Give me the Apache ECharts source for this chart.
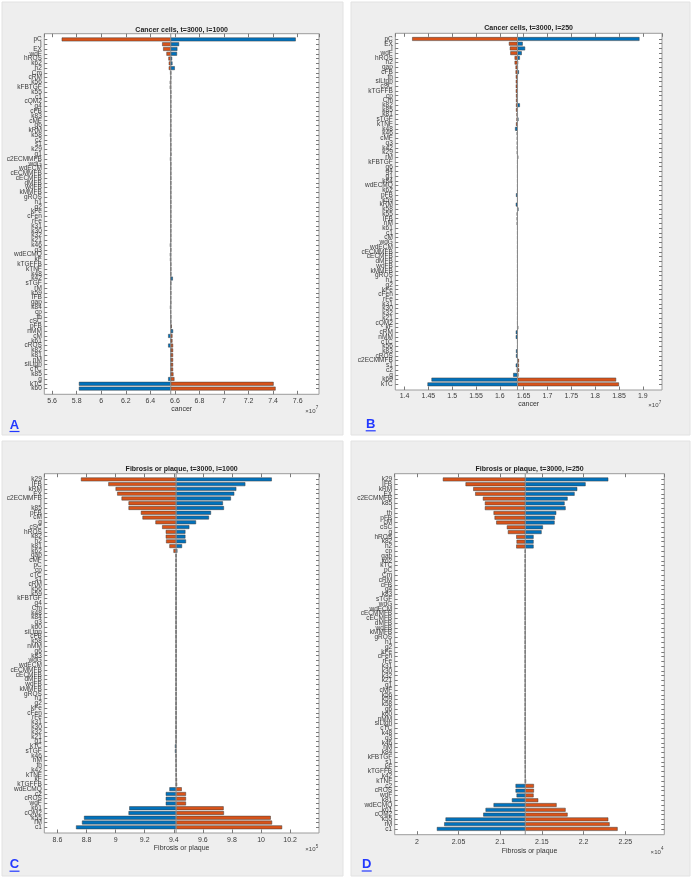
<!DOCTYPE html>
<html><head><meta charset="utf-8">
<script src="https://cdn.jsdelivr.net/npm/echarts@6/dist/echarts.min.js"></script>
<style>html,body{margin:0;padding:0;background:#fff}#c{width:692px;height:879px}</style>
</head><body><div id="c"></div>
<script>
// ---------- Panel A: Cancer cells, t=3000, l=1000 (x 10^7) ----------
const paramsA = ['pC','I','EX','wdF','hROS','k62','h2','Cm','cRM','k56','kFBTGF','k55','c1','cQM2','g4','cFB','k83','cMF','g6','kRM','k58','c2','s1','k29','g1','c2ECMMFB','wdG','wdECM','cECMMFB','cECMFB','dMFB','wdFB','kMMFB','gROS','h1','g2','kFe','cFen','rFe','k31','k30','k32','k21','k46','q3','wdECMQ','kF','kTGFFB','kTNF','k48','k42','sTGF','rM','k59','IFB','gap','k84','cp','th','cSC','pFB','nMM','cM','k61','cROS','k82','k81','nM','siLtgn','cTC','k85','g','kTC','k60'];
const orangeA = [5.678,6.496,6.504,6.531,6.547,6.550,6.550,6.561,6.563,6.558,
 6.558,6.565,6.565,6.565,6.565,6.565,6.565,6.565,6.565,6.565,
 6.567,6.565,6.565,6.565,6.565,6.567,6.566,6.566,6.566,6.566,
 6.566,6.566,6.566,6.566,6.566,6.566,6.566,6.566,6.566,6.566,
 6.566,6.566,6.566,6.567,6.566,6.567,6.567,6.566,6.566,6.566,
 6.565,6.566,6.567,6.566,6.567,6.566,6.567,6.566,6.566,6.566,
 6.574,6.574,6.580,6.580,6.585,6.585,6.585,6.585,6.585,6.585,
 6.588,6.596,7.404,7.420];
const blueA = [7.584,6.634,6.620,6.617,6.577,6.580,6.599,6.569,6.568,6.567,
 6.567,6.567,6.567,6.567,6.567,6.567,6.567,6.567,6.567,6.567,
 6.560,6.566,6.567,6.567,6.569,6.560,6.566,6.566,6.566,6.566,
 6.566,6.566,6.566,6.566,6.566,6.566,6.566,6.566,6.566,6.566,
 6.566,6.566,6.566,6.559,6.566,6.559,6.560,6.566,6.566,6.566,
 6.583,6.566,6.562,6.566,6.563,6.566,6.560,6.563,6.566,6.566,
 6.566,6.585,6.545,6.564,6.545,6.564,6.564,6.564,6.564,6.564,
 6.564,6.545,5.818,5.818];
const baseA = 6.566;

// ---------- Panel B: Cancer cells, t=3000, l=250 (x 10^7) ----------
const paramsB = ['pC','EX','I','wdF','hROS','h2','gap','cFB','th','siLtgn','cSC','kTGFFB','cp','Cm','k82','k85','k81','sTGF','kTNF','k48','k46','cMF','q3','k42','k29','rM','kFBTGF','g6','g4','g1','k84','wdECMQ','k62','pFB','k59','kRM','k58','k55','IFB','nM','k61','c1','cM','wdG','wdECM','cECMMFB','cECMFB','dMFB','wdFB','kMMFB','gROS','h1','g2','kFe','cFen','rFe','k31','k30','k32','k21','cQM2','kF','cRM','nMM','cTC','k56','k83','cROS','c2ECMMFB','s1','c2','g','k60','kTC'];
const orangeB = [1.416,1.619,1.621,1.622,1.631,1.631,1.633,1.633,1.6335,1.6335,
 1.6335,1.6335,1.634,1.634,1.634,1.634,1.635,1.635,1.634,1.635,
 1.6355,1.636,1.636,1.636,1.636,1.637,1.637,1.637,1.637,1.637,
 1.637,1.637,1.637,1.637,1.637,1.637,1.637,1.637,1.637,1.637,
 1.637,1.637,1.637,1.637,1.637,1.637,1.637,1.637,1.637,1.637,
 1.637,1.637,1.637,1.637,1.637,1.637,1.637,1.637,1.637,1.637,
 1.637,1.637,1.637,1.637,1.637,1.637,1.637,1.637,1.640,1.640,
 1.6405,1.639,1.844,1.850];
const blueB = [1.893,1.648,1.653,1.646,1.642,1.638,1.6375,1.640,1.6372,1.6372,
 1.6372,1.6372,1.6372,1.6372,1.642,1.6372,1.6372,1.639,1.637,1.632,
 1.637,1.637,1.637,1.637,1.637,1.6385,1.637,1.637,1.637,1.637,
 1.637,1.637,1.637,1.634,1.637,1.6335,1.639,1.6355,1.6355,1.6355,
 1.637,1.637,1.637,1.637,1.637,1.637,1.637,1.637,1.637,1.637,
 1.637,1.637,1.637,1.637,1.637,1.637,1.637,1.637,1.637,1.637,
 1.637,1.6385,1.6335,1.6335,1.637,1.637,1.634,1.634,1.637,1.6335,
 1.6355,1.628,1.4566,1.4482];
const baseB = 1.637;

// ---------- Panel C: Fibrosis or plaque, t=3000, l=1000 (x 10^5) ----------
const paramsC = ['k29','IFB','kRM','EX','c2ECMMFB','I','k85','pFB','cM','g','cSC','hROS','k82','h2','k81','k62','gap','cMF','pC','cp','cTC','s1','cRM','k56','k59','kFBTGF','g4','Cm','k48','k84','q3','k60','siLtgn','cFB','k58','nMM','g6','k83','wdG','wdECM','cECMMFB','cECMFB','dMFB','wdFB','kMMFB','gROS','h1','g2','kFe','cFen','rFe','k31','k30','k32','k21','g1','kTC','sTGF','k46','nM','th','k42','kTNF','kF','kTGFFB','wdECMQ','c2','cROS','wdF','k61','cQM2','k55','rM','c1'];
const orangeC = [8.762,8.950,9.000,9.011,9.041,9.089,9.089,9.174,9.185,9.274,
 9.320,9.345,9.345,9.347,9.370,9.398,9.413,9.414,9.414,9.414,
 9.415,9.415,9.416,9.416,9.416,9.416,9.416,9.416,9.416,9.416,
 9.416,9.416,9.416,9.416,9.416,9.416,9.416,9.416,9.416,9.416,
 9.416,9.416,9.416,9.416,9.416,9.416,9.416,9.416,9.416,9.416,
 9.416,9.416,9.416,9.416,9.416,9.416,9.416,9.416,9.416,9.416,
 9.418,9.419,9.420,9.422,9.423,9.455,9.484,9.484,9.484,9.743,
 9.745,10.067,10.076,10.145];
const blueC = [10.074,9.892,9.830,9.816,9.793,9.738,9.745,9.656,9.642,9.553,
 9.507,9.480,9.480,9.484,9.457,9.425,9.419,9.418,9.418,9.417,
 9.417,9.417,9.416,9.416,9.416,9.416,9.416,9.416,9.416,9.416,
 9.416,9.416,9.416,9.416,9.416,9.416,9.416,9.416,9.416,9.416,
 9.416,9.416,9.416,9.416,9.416,9.416,9.416,9.416,9.416,9.416,
 9.416,9.416,9.416,9.416,9.416,9.416,9.408,9.408,9.415,9.415,
 9.415,9.415,9.415,9.415,9.415,9.370,9.345,9.345,9.345,9.094,
 9.089,8.783,8.769,8.728];
const baseC = 9.416;

// ---------- Panel D: Fibrosis or plaque, t=3000, l=250 (x 10^4) ----------
const paramsD = ['k29','IFB','kRM','EX','c2ECMMFB','k85','I','th','pFB','cM','cSC','g','hROS','k82','h2','cp','gap','k62','kTC','pC','Cm','cRM','cFB','g4','k83','sTGF','wdG','wdECM','cECMMFB','cECMFB','dMFB','wdFB','kMMFB','gROS','h1','g2','kFe','cFen','rFe','k31','k30','k32','k21','g1','cMF','k56','k59','k58','g6','k60','nMM','siLtgn','cTC','k48','q3','k46','nM','k84','kFBTGF','s1','kF','kTGFFB','k42','kTNF','c2','cROS','wdF','k81','wdECMQ','k61','cQM2','k55','rM','c1'];
const orangeD = [2.0312,2.0584,2.0676,2.0700,2.0792,2.0816,2.0816,2.0920,2.0932,2.0952,
 2.1080,2.1092,2.1192,2.1196,2.1192,2.1296,2.1298,2.1298,2.1299,2.1299,
 2.1300,2.1300,2.1300,2.1300,2.1300,2.1300,2.1300,2.1300,2.1300,2.1300,
 2.1300,2.1300,2.1300,2.1300,2.1300,2.1300,2.1300,2.1300,2.1300,2.1300,
 2.1300,2.1300,2.1300,2.1301,2.1301,2.1301,2.1301,2.1301,2.1301,2.1301,
 2.1301,2.1301,2.1301,2.1302,2.1302,2.1302,2.1302,2.1302,2.1302,2.1303,
 2.1304,2.1305,2.1306,2.1310,2.1404,2.1404,2.1400,2.1456,2.1676,2.1784,
 2.1808,2.2296,2.2312,2.2408];
const blueD = [2.2296,2.2024,2.1924,2.1892,2.1808,2.1772,2.1784,2.1672,2.1656,2.1652,
 2.1512,2.1496,2.1400,2.1400,2.1400,2.1306,2.1303,2.1302,2.1301,2.1301,
 2.1300,2.1300,2.1300,2.1300,2.1300,2.1300,2.1300,2.1300,2.1300,2.1300,
 2.1300,2.1300,2.1300,2.1300,2.1300,2.1300,2.1300,2.1300,2.1300,2.1300,
 2.1300,2.1300,2.1300,2.1299,2.1299,2.1299,2.1299,2.1299,2.1299,2.1299,
 2.1299,2.1299,2.1299,2.1299,2.1299,2.1299,2.1299,2.1299,2.1299,2.1299,
 2.1299,2.1299,2.1299,2.1298,2.1184,2.1184,2.1196,2.1140,2.0920,2.0824,
 2.0796,2.0344,2.0328,2.0240];
const baseD = 2.130;

const titles = ['Cancer cells, t=3000, l=1000','Cancer cells, t=3000, l=250','Fibrosis or plaque, t=3000, l=1000','Fibrosis or plaque, t=3000, l=250'];
const xNames = ['cancer','cancer','Fibrosis or plaque','Fibrosis or plaque'];
const exponents = ['7','7','5','4'];
const letters = ['A','B','C','D'];

// ---------- layout ----------
const FONT = '"Liberation Sans", Arial, Helvetica, sans-serif';
const ORANGE = '#D95319', BLUE = '#0072BD';
const PAD = 1.2;
const panels = [
  {params:paramsA, orange:orangeA, blue:blueA, base:baseA, step:0.2, split:10,
   box:{l:44.3,t:33.7,w:274.7,h:360.6}, bg:{x:2,y:2,w:341,h:433}, lx:14.5, ly:425, titleY:30, nameGap:11.5, margin:3.5, expY:411},
  {params:paramsB, orange:orangeB, blue:blueB, base:baseB, step:0.05, split:10,
   box:{l:395.3,t:33.3,w:266.7,h:356.7}, bg:{x:351,y:2,w:339,h:433}, lx:370.7, ly:424.3, titleY:28.5, nameGap:10.5, margin:2.5, expY:405.5},
  {params:paramsC, orange:orangeC, blue:blueC, base:baseC, step:0.2, split:10,
   box:{l:44.3,t:473.7,w:274.7,h:359.3}, bg:{x:2,y:441,w:341,h:435}, lx:14.5, ly:864.7, titleY:469.5, nameGap:11.3, margin:3.5, expY:849.5},
  {params:paramsD, orange:orangeD, blue:blueD, base:baseD, step:0.05, split:6,
   box:{l:394.7,t:473.7,w:269.6,h:361}, bg:{x:351,y:441,w:339,h:435}, lx:366.7, ly:864.5, titleY:469, nameGap:12.5, margin:4, expY:852}
];

const option = {animation:false, backgroundColor:'#ffffff', grid:[], xAxis:[], yAxis:[], series:[], graphic:[]};
const tickStyle = {color:'#7a7a7a', width:1};

panels.forEach((p, i) => {
  const n = p.params.length;
  const b = p.box;
  const band = b.h / (n - 1 + 2 * PAD);
  const og = 2 * i, ig = 2 * i + 1;
  option.grid.push({left:b.l, top:b.t, width:b.w, height:b.h, show:true, backgroundColor:'#ffffff', borderColor:'#9c9c9c', borderWidth:1, containLabel:false, outerBoundsMode:'none'});
  option.grid.push({left:b.l, top:b.t + (PAD - 0.5) * band, width:b.w, height:n * band, containLabel:false, outerBoundsMode:'none'});
  const all = p.orange.concat(p.blue);
  const mn = Math.min(...all) * 0.975, mx = Math.max(...all) * 1.025;
  const step = p.step;
  const fmt = v => { const k = v / step; if (Math.abs(k - Math.round(k)) > 1e-6) return ''; return String(+v.toFixed(4)); };
  option.xAxis.push({type:'value', gridIndex:og, position:'bottom', min:mn, max:mx, splitNumber:p.split,
    axisLine:{show:false}, splitLine:{show:false},
    axisTick:{show:true, inside:true, length:3.5, lineStyle:tickStyle},
    axisLabel:{show:true, formatter:fmt, fontSize:7, color:'#3a3a3a', fontFamily:FONT, margin:p.margin, showMinLabel:false, showMaxLabel:false},
    name:xNames[i], nameLocation:'middle', nameGap:p.nameGap, nameTextStyle:{fontSize:7, color:'#333', fontFamily:FONT}});
  option.xAxis.push({type:'value', gridIndex:og, position:'top', min:mn, max:mx, splitNumber:p.split,
    axisLine:{show:false}, splitLine:{show:false},
    axisTick:{show:true, inside:true, length:3.5, lineStyle:tickStyle}, axisLabel:{show:false}});
  option.xAxis.push({type:'value', gridIndex:ig, min:mn, max:mx, show:false});
  option.yAxis.push({type:'value', gridIndex:og, min:0, max:1, show:false});
  option.yAxis.push({type:'category', gridIndex:ig, data:p.params, inverse:true, position:'left',
    axisLine:{show:false}, splitLine:{show:false},
    axisTick:{show:true, inside:true, alignWithLabel:true, interval:0, length:3, lineStyle:tickStyle},
    axisLabel:{interval:0, fontSize:6.5, color:'#3a3a3a', fontFamily:FONT, margin:2.5}});
  option.yAxis.push({type:'category', gridIndex:ig, data:p.params, inverse:true, position:'right',
    axisLine:{show:false}, splitLine:{show:false},
    axisTick:{show:true, inside:true, alignWithLabel:true, interval:0, length:3, lineStyle:tickStyle},
    axisLabel:{show:false}});

  const xi = 3 * i + 2, yi = 3 * i + 1;
  const mk = (vals, color, stack) => {
    const lo = vals.map(v => Math.min(v, p.base));
    const len = vals.map(v => Math.abs(v - p.base));
    option.series.push({type:'bar', xAxisIndex:xi, yAxisIndex:yi, stack:stack + i, data:lo, barGap:'-100%', barCategoryGap:'20%',
      itemStyle:{color:'rgba(0,0,0,0)', borderWidth:0}, silent:true, emphasis:{disabled:true}, z:2});
    option.series.push({type:'bar', xAxisIndex:xi, yAxisIndex:yi, stack:stack + i, data:len, barGap:'-100%', barCategoryGap:'20%',
      itemStyle:{color:color, borderColor:'#3c3c3c', borderWidth:0.5}, silent:true, emphasis:{disabled:true}, z:2});
  };
  mk(p.orange, ORANGE, 'o');
  mk(p.blue, BLUE, 'b');
  // bar baseline
  option.series.push({type:'line', xAxisIndex:3 * i, yAxisIndex:3 * i, data:[[p.base, 0], [p.base, 1]],
    showSymbol:false, symbol:'none', silent:true, lineStyle:{color:'#8c8c8c', width:1}, z:3});

  // panel background
  option.graphic.push({type:'rect', z:-10, silent:true, shape:{x:p.bg.x, y:p.bg.y, width:p.bg.w, height:p.bg.h},
    style:{fill:'#eeeeee', stroke:'#e2e2e2', lineWidth:1}});
  // title
  option.graphic.push({type:'text', z:10, silent:true, x:b.l + b.w / 2, y:p.titleY,
    style:{text:titles[i], fontSize:7, fontWeight:'bold', fontFamily:FONT, fill:'#1e1e1e', textAlign:'center', textVerticalAlign:'middle', verticalAlign:'middle'}});
  // exponent
  option.graphic.push({type:'text', z:10, silent:true, x:b.l + b.w - 3.5, y:p.expY,
    style:{text:'\u00d710', fontSize:6, fontFamily:FONT, fill:'#444', textAlign:'right', textVerticalAlign:'middle', verticalAlign:'middle'}});
  option.graphic.push({type:'text', z:10, silent:true, x:b.l + b.w - 3.2, y:p.expY - 2.8,
    style:{text:exponents[i], fontSize:4.5, fontFamily:FONT, fill:'#444', textAlign:'left', textVerticalAlign:'middle', verticalAlign:'middle'}});
  // panel letter
  option.graphic.push({type:'text', z:10, silent:true, x:p.lx, y:p.ly,
    style:{text:letters[i], fontSize:13, fontWeight:'bold', fontFamily:FONT, fill:'#2238ff', textAlign:'center', textVerticalAlign:'middle', verticalAlign:'middle'}});
  option.graphic.push({type:'line', z:10, silent:true, shape:{x1:p.lx - 5, y1:p.ly + 6.5, x2:p.lx + 5, y2:p.ly + 6.5},
    style:{stroke:'#2238ff', lineWidth:1.2}});
});

const chart = echarts.init(document.getElementById('c'), null, {renderer:'canvas'});
chart.setOption(option);
</script>
</body></html>
